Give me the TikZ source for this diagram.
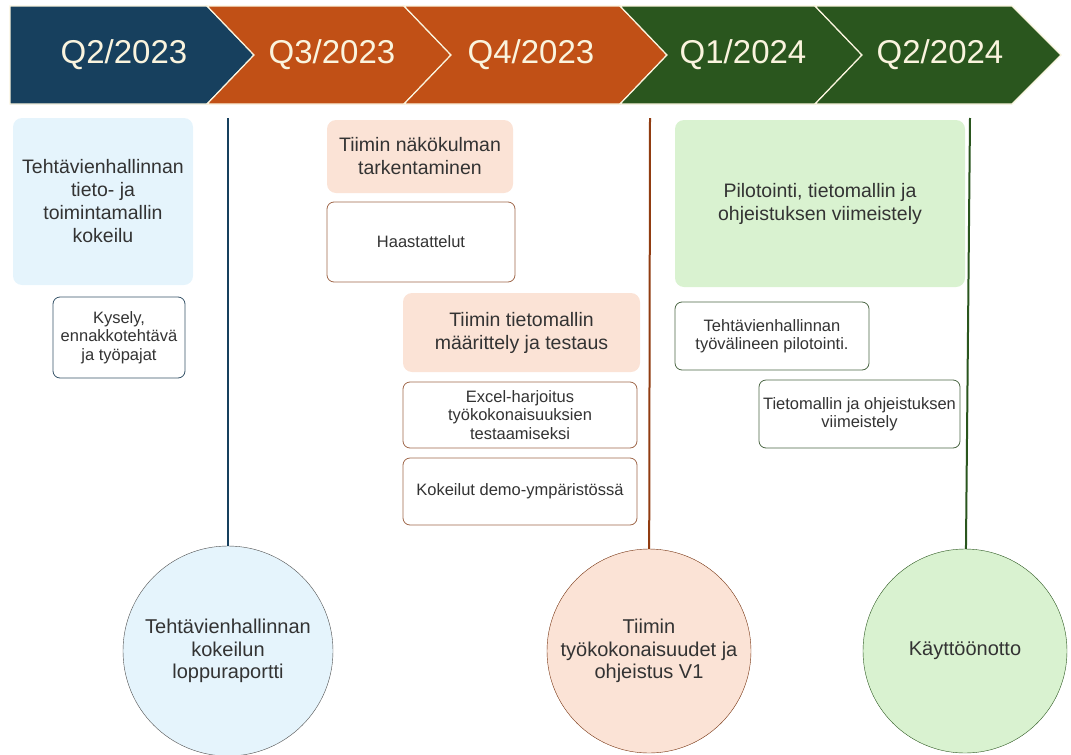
\documentclass[tikz,border=0pt]{standalone}
\usepackage{fontspec}
\setmainfont{Liberation Sans}
\usepackage {tikz}
\usetikzlibrary {positioning}
\definecolor {qblue}{RGB}{23,64,94}
\definecolor {qorange}{RGB}{193,80,22}
\definecolor {qgreen}{RGB}{42,86,30}
\definecolor {lightblue}{RGB}{229,244,252}
\definecolor {lightpeach}{RGB}{251,227,214}
\definecolor {lightgreen}{RGB}{217,242,208}
\definecolor {cream}{RGB}{250,244,222}

\begin{document}
\begin{tikzpicture}[x=1pt,y=-1pt]
  \tikzstyle{phase}=[draw=cream, line width=1.2pt, line join=miter]
  \tikzstyle{quarter}=[text=cream, font=\fontsize{33}{38}\selectfont]
  \tikzstyle{task}=[rectangle, rounded corners=9pt, align=center, text=black!80, font=\fontsize{19.5}{23}\selectfont]
  \tikzstyle{subtask}=[rectangle, rounded corners=7pt, draw, fill=white, align=center, text=black!80, line width=0.8pt, font=\fontsize{16.5}{18.5}\selectfont]
  \tikzstyle{milestone}=[circle, draw=black!70, align=center, text=black!80, minimum size=204pt, inner sep=0pt, font=\fontsize{20}{22.5}\selectfont]
  \useasboundingbox (0,0) rectangle (1071,755);

  \fill[qblue, phase] (10,6) -- (207,6) -- (254,55) -- (207,104) -- (10,104) -- cycle;
  \fill[qorange, phase] (207,6) -- (404,6) -- (451,55) -- (404,104) -- (207,104) -- (254,55) -- cycle;
  \fill[qorange, phase] (404,6) -- (620,6) -- (667,55) -- (620,104) -- (404,104) -- (451,55) -- cycle;
  \fill[qgreen, phase] (620,6) -- (815,6) -- (862,55) -- (815,104) -- (620,104) -- (667,55) -- cycle;
  \fill[qgreen, phase] (815,6) -- (1012,6) -- (1061,55) -- (1012,104) -- (815,104) -- (862,55) -- cycle;
  \node[quarter] (Q_1) at (124,55) {Q2/2023};
  \node[quarter] (Q_2) at (332,55) {Q3/2023};
  \node[quarter] (Q_3) at (531,55) {Q4/2023};
  \node[quarter] (Q_4) at (743,55) {Q1/2024};
  \node[quarter] (Q_5) at (940,55) {Q2/2024};

  \node[milestone, fill=lightblue, minimum size=210pt] (C_1) at (228,651) {Tehtävienhallinnan\\kokeilun\\loppuraportti};
  \node[milestone, fill=lightpeach, draw=qorange!60!black] (C_2) at (649,651) {Tiimin\\työkokonaisuudet ja\\ohjeistus V1};
  \node[milestone, fill=lightgreen, draw=qgreen] (C_3) at (965,651) {Käyttöönotto};
  \coordinate (T_1) at (228,118);
  \coordinate (T_2) at (650,118);
  \coordinate (T_3) at (970,118);
  \draw[qblue, line width=2pt] (T_1) -- (C_1);
  \draw[qorange!75!black, line width=2pt] (T_2) -- (C_2);
  \draw[qgreen, line width=2pt] (T_3) -- (C_3);

  \node[task, fill=lightblue, minimum width=180pt, minimum height=167pt] (A_1) at (103,201.5) {Tehtävienhallinnan\\tieto- ja\\toimintamallin\\kokeilu};
  \node[subtask, draw=qblue!70!gray, minimum width=132pt, minimum height=81pt] (A_2) at (119,337.5) {Kysely,\\ennakkotehtävä\\ja työpajat};

  \node[task, fill=lightpeach, minimum width=186pt, minimum height=73pt] (B_1) at (420,156.5) {Tiimin näkökulman\\tarkentaminen};
  \node[subtask, draw=qorange!50!gray, minimum width=188pt, minimum height=80pt] (B_2) at (421,242) {Haastattelut};
  \node[task, fill=lightpeach, minimum width=237pt, minimum height=79pt] (B_3) at (521.5,332.5) {Tiimin tietomallin\\määrittely ja testaus};
  \node[subtask, draw=qorange!50!gray, minimum width=234pt, minimum height=66pt] (B_4) at (520,415) {Excel-harjoitus\\työkokonaisuuksien\\testaamiseksi};
  \node[subtask, draw=qorange!50!gray, minimum width=234pt, minimum height=67pt] (B_5) at (520,491.5) {Kokeilut demo-ympäristössä};

  \node[task, fill=lightgreen, minimum width=290pt, minimum height=167pt] (D_1) at (820,203.5) {Pilotointi, tietomallin ja\\ohjeistuksen viimeistely};
  \node[subtask, draw=qgreen!60!gray, minimum width=194pt, minimum height=68pt] (D_2) at (772,336) {Tehtävienhallinnan\\työvälineen pilotointi.};
  \node[subtask, draw=qgreen!60!gray, minimum width=201pt, minimum height=68pt] (D_3) at (859.5,414) {Tietomallin ja ohjeistuksen\\viimeistely};
\end{tikzpicture}
\end{document}
